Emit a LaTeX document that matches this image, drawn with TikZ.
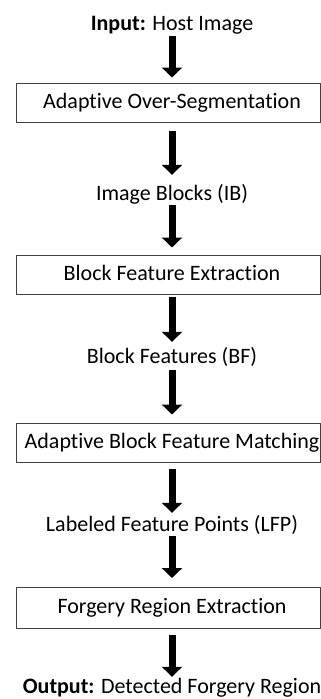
\documentclass[tikz,border=0pt]{standalone}
\usepackage{fontspec}
\setmainfont{Carlito}[Ligatures=NoCommon]
\usetikzlibrary{arrows.meta}
\begin{document}
\begin{tikzpicture}[x=1pt,y=-1pt,
  lbl/.style={inner sep=0pt, text height=16pt, text depth=5pt, font=\fontsize{22}{26}\selectfont},
  stage/.style={draw=black!75, line width=1pt, minimum width=304pt, minimum height=39pt, inner sep=0pt},
  flow/.style={line width=7pt, -{Triangle[width=20pt,length=10pt]}}]
\useasboundingbox (0,0) rectangle (321,699);
\node[lbl] (in) at (172,25) {\textbf{Input:} Host Image};
\node[stage] (s1) at (168,102.5) {};
\node[lbl] at (172,102.5) {Adaptive Over-Segmentation};
\node[lbl] (ib) at (172,195) {Image Blocks (IB)};
\node[stage] (s2) at (168,274.5) {};
\node[lbl] at (172,274.5) {Block Feature Extraction};
\node[lbl] (bf) at (172,358) {Block Features (BF)};
\node[stage] (s3) at (168,442.5) {};
\node[lbl] at (172,442.5) {Adaptive Block Feature Matching};
\node[lbl] (lfp) at (172,526) {Labeled Feature Points (LFP)};
\node[stage, minimum height=41pt] (s4) at (168,608) {};
\node[lbl] at (172,608) {Forgery Region Extraction};
\node[lbl] (out) at (172,687.5) {\textbf{Output:} Detected Forgery Region};
\draw[flow, shorten <=0.5pt, shorten >=5pt] (in.south) -- (s1.north -| in.south);
\draw[flow, shorten <=8pt, shorten >=9.5pt] (s1.south -| ib.north) -- (ib.north);
\draw[flow, shorten <=-0.5pt, shorten >=7pt] (ib.south) -- (s2.north -| ib.south);
\draw[flow, shorten <=2pt, shorten >=5.5pt] (s2.south -| bf.north) -- (bf.north);
\draw[flow, shorten <=1.5pt, shorten >=8pt] (bf.south) -- (s3.north -| bf.south);
\draw[flow, shorten <=6pt, shorten >=2.5pt] (s3.south -| lfp.north) -- (lfp.north);
\draw[flow, shorten <=-0.5pt, shorten >=9pt] (lfp.south) -- (s4.north -| lfp.south);
\draw[flow, shorten <=5.5pt, shorten >=0pt] (s4.south -| out.north) -- (out.north);
\end{tikzpicture}
\end{document}
